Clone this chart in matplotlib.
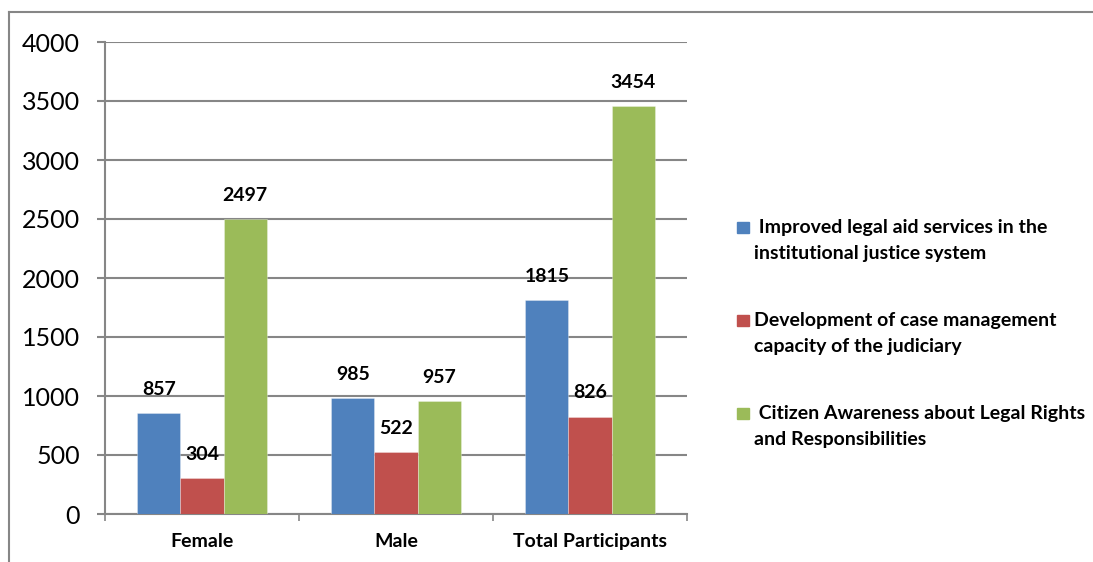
import matplotlib
matplotlib.use("Agg")
import matplotlib.pyplot as plt
from matplotlib.patches import Rectangle
from matplotlib.lines import Line2D
import numpy as np

plt.rcParams['font.family'] = ['Lato', 'DejaVu Sans']

categories = ["Female", "Male", "Total Participants"]
series_names = [
    " Improved legal aid services in the\ninstitutional justice system",
    "Development of case management\ncapacity of the judiciary",
    " Citizen Awareness about Legal Rights\nand Responsibilities",
]
legal_aid = [857, 985, 1815]
case_mgmt = [304, 522, 826]
awareness = [2497, 957, 3454]
series_values = [legal_aid, case_mgmt, awareness]
colors = ["#4F81BD", "#C0504D", "#9BBB59"]
y_ticks = [0, 500, 1000, 1500, 2000, 2500, 3000, 3500, 4000]

W, H = 1093, 562
fig = plt.figure(figsize=(W / 100, H / 100), dpi=100)
ax = fig.add_axes([105 / W, 1 - 514 / H, (687 - 105) / W, (514 - 42) / H])

grid_c = "#868686"
bold_fs = 14
x = np.arange(len(categories))
bw = 1 / (3 + 1.5)
for i, (vals, col) in enumerate(zip(series_values, colors)):
    pos = x + (i - 1) * bw
    bars = ax.bar(pos, vals, width=bw, color=col, edgecolor=(1, 1, 1, 0.35),
                  linewidth=0.6, zorder=3)
    for b, v in zip(bars, vals):
        ax.annotate(str(v), (b.get_x() + b.get_width() / 2, v),
                    xytext=(0, 13), textcoords="offset points",
                    ha="center", va="baseline", fontsize=bold_fs,
                    fontweight="bold", color="black", zorder=4)

ax.set_ylim(0, 4000)
ax.set_xlim(-0.5, len(categories) - 0.5)
ax.set_yticks(y_ticks)
ax.set_yticklabels([str(t) for t in y_ticks], fontsize=18)
ax.yaxis.grid(True, color=grid_c, linewidth=1.5, zorder=0)
ax.set_axisbelow(True)

ax.set_xticks(np.arange(len(categories) + 1) - 0.5)
ax.set_xticklabels([])
ax.set_xticks(x, minor=True)
ax.set_xticklabels(categories, minor=True, fontsize=bold_fs, fontweight="bold")
ax.tick_params(axis="x", which="minor", length=0, pad=14)
ax.tick_params(axis="x", which="major", length=5, width=1.2, color=grid_c, direction="out")
ax.tick_params(axis="y", length=6, width=1.5, color=grid_c, pad=12)

for s in ["top", "right"]:
    ax.spines[s].set_visible(False)
for s in ["left", "bottom"]:
    ax.spines[s].set_color(grid_c)
    ax.spines[s].set_linewidth(1.5)

# chart border
fig.add_artist(Line2D([9 / W, 9 / W], [0, 1 - 12 / H], transform=fig.transFigure,
                      color=grid_c, linewidth=1.5))
fig.add_artist(Line2D([9 / W, 1], [1 - 12 / H, 1 - 12 / H], transform=fig.transFigure,
                      color=grid_c, linewidth=1.5))

# legend
first_baselines = [233, 326, 419]
line_gap = 26
for name, col, yb in zip(series_names, colors, first_baselines):
    fig.add_artist(Rectangle((737 / W, 1 - yb / H), 12 / W, 11 / H,
                             transform=fig.transFigure, color=col))
    for k, line in enumerate(name.split("\n")):
        fig.text(754 / W, 1 - (yb + k * line_gap) / H, line, fontsize=bold_fs,
                 fontweight="bold", ha="left", va="baseline")

fig.savefig("out.png", dpi=100)
